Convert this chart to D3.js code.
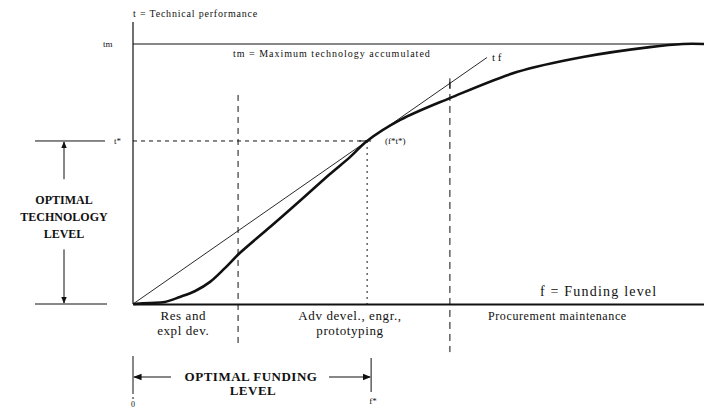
<!DOCTYPE html>
<html>
<head>
<meta charset="utf-8">
<script src="https://cdn.jsdelivr.net/npm/d3@7"></script>
<style>
  body { margin: 0; background: #fff; }
  svg { display: block; font-family: "Liberation Serif", "DejaVu Serif", serif; }
</style>
</head>
<body>
<svg></svg>
<script>
// curve: technical performance vs funding (both 0..1)
let fundVals = [0, 0.030, 0.056, 0.082, 0.109, 0.135, 0.161, 0.187, 0.240, 0.292, 0.345, 0.380, 0.410, 0.468, 0.555, 0.672, 0.788, 0.905, 0.963, 1.0];
let techVals = [0, 0.004, 0.008, 0.027, 0.050, 0.085, 0.138, 0.196, 0.296, 0.396, 0.500, 0.565, 0.627, 0.708, 0.792, 0.892, 0.950, 0.988, 1.0, 1.0];

let tMax = 1.0;
let tStar = 0.627;
let fStar = 0.41;
let tangentEnd = 0.62;
let phaseBounds = [0.184, 0.555];
let phaseNames = [["Res and", "expl dev."], ["Adv devel., engr.,", "prototyping"], ["Procurement  maintenance"]];
let phaseCenters = [0.088, 0.38, 0.61];

let width = 704;
let height = 409;

let svg = d3.select('svg')
  .attr('width', width)
  .attr('height', height)

let xScale = d3.scaleLinear().domain([0, 1]).range([133, 704])
let yScale = d3.scaleLinear().domain([0, 1]).range([304, 44])

let ink = '#111';

let line = (x1, y1, x2, y2, w, dash) => {
  let l = svg.append('line')
    .attr('x1', x1).attr('y1', y1).attr('x2', x2).attr('y2', y2)
    .attr('stroke', ink).attr('stroke-width', w)
  if (dash) l.attr('stroke-dasharray', dash)
  return l
}

let text = (x, y, s, size, anchor, weight, spacing) => {
  return svg.append('text')
    .attr('x', x).attr('y', y)
    .attr('font-size', size)
    .attr('text-anchor', anchor || 'start')
    .attr('font-weight', weight || 'normal')
    .attr('letter-spacing', spacing || 0)
    .attr('fill', ink)
    .text(s)
}

svg.append('defs').append('marker')
  .attr('id', 'arr')
  .attr('viewBox', '0 0 10 10')
  .attr('refX', 9).attr('refY', 5)
  .attr('markerWidth', 7).attr('markerHeight', 7)
  .attr('orient', 'auto-start-reverse')
  .append('path').attr('d', 'M0,1 L10,5 L0,9 Z').attr('fill', ink)

// axes
let yAxis = d3.axisLeft(yScale).tickValues([]).tickSizeOuter(0)
svg.append('g')
  .attr('transform', `translate(${xScale(0)},0)`)
  .call(yAxis)
  .call(g => g.select('.domain').attr('d', `M0,${yScale(1.085)}V${yScale(0)}`).attr('stroke', ink).attr('stroke-width', 1.2))

let xAxis = d3.axisBottom(xScale).tickValues([phaseBounds[0], phaseBounds[1]]).tickSize(0).tickFormat('')
svg.append('g')
  .attr('transform', `translate(0,${yScale(0)})`)
  .call(xAxis)
  .call(g => g.select('.domain').attr('stroke', ink).attr('stroke-width', 2.2))

// tm line
line(xScale(0), yScale(tMax), xScale(1), yScale(tMax), 1.2)

// phase boundaries
line(xScale(phaseBounds[0]), yScale(0.804), xScale(phaseBounds[0]), yScale(-0.165), 1, '6,5')
line(xScale(phaseBounds[1]), yScale(0.854), xScale(phaseBounds[1]), yScale(-0.185), 1, '7,5')

// t* and f* guides
line(xScale(0), yScale(tStar), xScale(fStar), yScale(tStar), 1, '4,4')
line(xScale(fStar), yScale(tStar), xScale(fStar), yScale(0), 1, '2,4')

// tangent line
line(xScale(0), yScale(0), xScale(tangentEnd), yScale(tStar / fStar * tangentEnd), 0.9)
line(xScale(phaseBounds[1]), yScale(tStar / fStar * phaseBounds[1]) - 5, xScale(phaseBounds[1]), yScale(tStar / fStar * phaseBounds[1]) + 5, 1)

// curve
let pts = fundVals.map((f, i) => [f, techVals[i]])
svg.append('path')
  .datum(pts)
  .attr('fill', 'none')
  .attr('stroke', ink)
  .attr('stroke-width', 2.6)
  .attr('d', d3.line().x(d => xScale(d[0])).y(d => yScale(d[1])).curve(d3.curveCatmullRom))

// point label
line(xScale(fStar) - 8, yScale(tStar), xScale(fStar) + 4, yScale(tStar), 1)
text(xScale(fStar) + 18, yScale(tStar) + 3, '(f*t*)', 9)

// axis labels
text(xScale(0), 17, 't = Technical performance', 10, 'start', 'normal', 0.8)
text(xScale(0) - 30, yScale(tMax) + 3, 'tm', 9)
text(233, yScale(tMax) + 13, 'tm = Maximum technology accumulated', 10, 'start', 'normal', 1)
text(xScale(tangentEnd) + 5, yScale(tStar / fStar * tangentEnd) + 4, 't  f', 11)
text(540, yScale(0) - 8, 'f = Funding level', 14, 'start', 'normal', 1.2)

// phase labels
phaseNames.forEach((lines, i) => {
  lines.forEach((s, j) => {
    if (i == 2) text(488, yScale(0) + 16, s, 12, 'start', 'normal', 0.6)
    else text(xScale(phaseCenters[i]), yScale(0) + 16 + j * 15, s, 13, 'middle', 'normal', 0.6)
  })
})

// optimal technology level
let bx = 64;
line(35, yScale(tStar), 105, yScale(tStar), 1)
line(35, yScale(0), 107, yScale(0), 1)
text(114, yScale(tStar) + 3, 't*', 9)
line(bx, yScale(0.48), bx, yScale(tStar) + 1, 1).attr('marker-end', 'url(#arr)')
line(bx, yScale(0.21), bx, yScale(0) - 1, 1).attr('marker-end', 'url(#arr)')
text(bx, 204, 'OPTIMAL', 12, 'middle', 'bold')
text(bx, 221, 'TECHNOLOGY', 12, 'middle', 'bold')
text(bx, 238, 'LEVEL', 12, 'middle', 'bold')

// optimal funding level
let fy = 377;
line(xScale(0), 356, xScale(0), 392, 1)
line(xScale(0), 392, xScale(0), 401, 1, '2,3')
line(xScale(fStar) + 4, 358, xScale(fStar) + 4, 392, 1)
line(171, fy, xScale(0) + 1, fy, 1.2).attr('marker-end', 'url(#arr)')
line(329, fy, xScale(fStar) + 3, fy, 1.2).attr('marker-end', 'url(#arr)')
text(251, fy + 4, 'OPTIMAL FUNDING', 13, 'middle', 'bold', 0.5)
text(253, 395, 'LEVEL', 13, 'middle', 'bold', 0.5)
text(xScale(0), 407, '0', 8, 'middle')
text(xScale(fStar) + 6, 404, 'f*', 9, 'middle')
</script>
</body>
</html>
